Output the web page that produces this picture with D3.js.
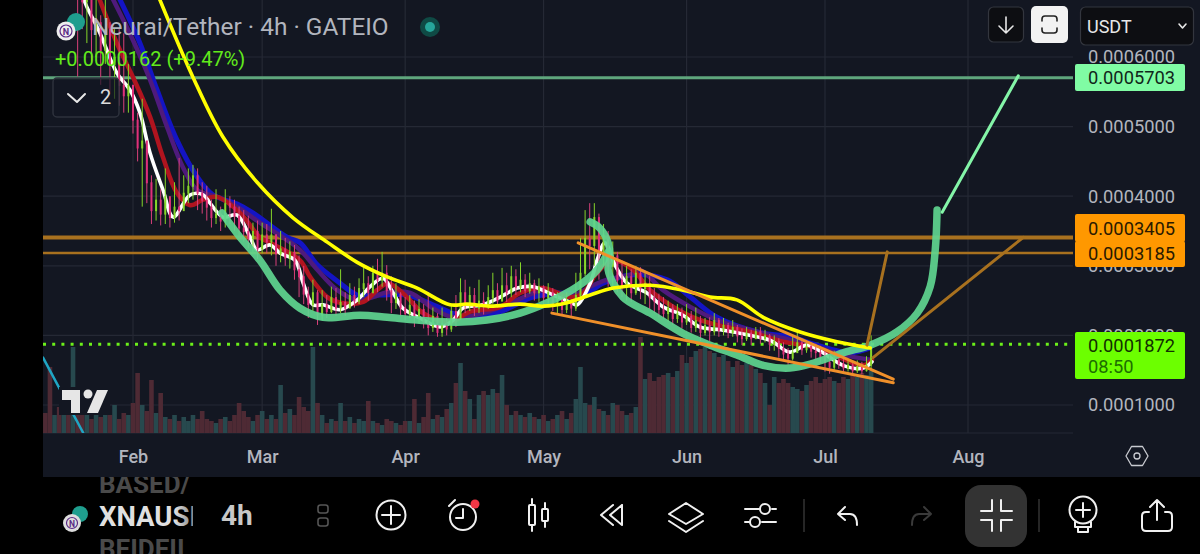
<!DOCTYPE html>
<html>
<head>
<meta charset="utf-8">
<script src="https://cdn.jsdelivr.net/npm/d3@7"></script>
<style>
  html, body { margin: 0; padding: 0; background: #000; overflow: hidden; }
  text { font-family: Roboto, sans-serif; }
</style>
</head>
<body>
<svg id="chart" width="1200" height="554"></svg>
<script>
// All prices are in millionths of USDT, all days are counted from 1 Jan 2025
var priceTicks = [100, 200, 300, 400, 500, 600];
var monthTicks = [1, 2, 3, 4, 5, 6, 7];

// Daily candles, first one is day 12
var firstCandleDay = 12;
var closes = [
  900,860,880,830,850,790,820,700,680,690,
  640,650,610,640,590,600,560,545,560,510,
  470,480,420,380,395,375,400,370,385,380,
  405,415,430,405,395,385,370,375,365,390,
  385,372,355,350,340,350,325,345,335,345,
  318,325,312,320,295,285,260,245,262,230,
  245,235,255,240,248,240,258,250,268,275,
  262,290,280,290,265,248,260,240,232,244,
  228,238,220,212,228,205,218,210,235,225,
  262,245,258,240,250,242,255,265,250,272,
  262,285,270,280,265,275,262,270,255,262,
  245,252,238,250,240,258,290,340,330,370,
  320,345,300,315,280,270,285,262,290,268,
  275,255,250,238,232,240,225,232,220,228,
  212,222,205,215,206,222,208,215,205,212,
  200,196,204,196,206,196,200,188,192,182,
  174,168,176,190,180,185,178,176,170,162,
  155,165,160,154,158,150,156,150,158,187.2
];
var highs = [
  940,920,910,890,880,860,850,790,790,760,
  700,700,660,690,650,640,640,634,590,560,
  520,540,470,430,425,410,440,395,420,455,
  430,440,445,440,420,415,395,410,385,410,
  400,395,385,380,372,362,365,362,360,382,
  345,350,340,335,330,315,300,270,280,265,
  265,258,270,268,295,262,275,270,282,297,
  285,300,310,320,301,285,275,262,255,258,
  250,252,245,262,240,232,240,225,245,258,
  282,280,270,268,280,262,272,290,275,297,
  290,300,295,305,288,290,280,282,272,275,
  268,262,258,262,252,290,340,380,390,390,
  375,360,350,335,320,305,300,295,300,298,
  292,285,268,260,255,250,245,245,240,245,
  235,240,228,225,226,232,225,225,218,222,
  215,210,212,208,212,212,208,202,200,196,
  190,182,200,205,196,192,190,188,185,180,
  172,178,172,168,165,162,164,162,170,200
];
var lows = [
  870,840,850,800,810,770,780,572,640,620,
  590,600,560,590,550,540,530,520,520,490,
  450,385,390,360,365,358,360,355,362,365,
  385,390,395,380,375,365,355,360,350,355,
  360,350,340,335,325,320,310,318,318,315,
  300,305,300,296,280,255,245,225,235,215,
  222,225,232,228,232,228,240,240,245,255,
  250,265,262,270,250,232,238,228,222,225,
  212,218,210,200,205,198,198,200,205,212,
  222,232,235,228,232,230,238,245,240,250,
  248,255,258,262,255,260,250,248,240,245,
  235,232,228,232,228,235,255,285,295,300,
  280,300,270,270,262,255,250,248,258,252,
  245,238,232,226,224,220,215,218,210,215,
  204,205,192,200,192,200,198,200,196,198,
  190,186,192,186,195,188,190,178,178,168,
  164,158,164,175,172,175,168,165,160,148,
  145,150,152,148,148,145,146,144,148,150
];
// Volume has no readable axis, these are relative heights
var volumes = [
  20,66,18,26,22,30,86,30,18,24,
  14,20,16,25,18,28,14,20,18,30,
  60,28,22,53,20,40,16,14,18,12,
  16,12,18,14,22,14,12,10,14,16,
  12,18,30,22,16,12,18,22,14,18,
  14,48,20,24,18,36,26,22,86,30,
  18,10,14,12,30,12,16,10,14,12,
  32,12,10,8,14,12,10,8,12,12,
  34,10,16,40,14,18,16,24,30,50,
  70,42,34,14,38,42,38,44,40,58,
  28,18,22,18,16,20,16,14,18,12,
  14,18,22,14,20,34,66,30,28,36,
  24,22,18,30,28,22,18,20,26,96,
  54,60,52,56,58,60,56,62,78,70,
  76,82,84,86,82,80,76,78,72,66,
  72,68,70,68,64,60,50,28,56,50,
  54,50,46,44,42,48,52,56,50,54,
  56,52,50,56,54,58,56,60,58,62
];

// Moving averages
var whiteDays = [20.4,21,23.8,27.5,30.3,32.5,34.7,37.5,39.7,43.4,46.2,47.7,50.5,53.5,56.4,57.9,60.7,62.9,66.1,67.9,70,72.2,75.9,79.6,82.4,85.2,87.4,89.5,93.2,97.6,100.4,102.5,106.9,110.6,114.3,117.7,122.1,125.7,127.3,130.1,131.6,133.3,135.5,138.1,142.4,145.9,150.2,153.9,158.3,164.1,169.1,173.4,177.1,180.6,184.9,189.3,191.2];
var whitePrices = [682,672,635,577,553,520,462,409,370,402,402,390,370,373,341,323,330,318,308,275,244,244,237,251,270,282,261,239,225,212,222,239,244,255,268,270,258,248,244,275,308,333,301,275,261,241,229,212,208,201,193,176,186,175,157,153,162];
var redDays = [23.4,27.5,31,34.7,37.5,40.5,43.4,46.2,49.2,54.2,58.5,60.7,67.2,69.4,73.1,75.9,80.9,83.9,86.3,90.4,93.9,99.7,104.1,110.6,114.9,119.9,125.7,128.6,131.6,135.1,139.4,143.1,148.1,152.4,157.6,164.8,171.9,179.3,184.3,189.3,191.2];
var redPrices = [689,620,571,514,456,405,387,395,399,376,341,333,308,284,255,247,248,265,275,255,232,219,234,241,261,268,255,261,290,308,294,265,241,226,215,205,191,182,168,157,165];
var purpleDays = [26.2,31,34.7,38.4,41.8,44.9,49.2,53.5,58.5,64.4,67.2,71,75.3,79.6,83,86.1,91.1,96,100.4,106.9,114.3,119.9,126.4,130.1,133.8,138.8,140.9,145.9,151.8,157.6,164.8,171.9,179.3,184.9,190.8];
var purplePrices = [689,624,567,499,442,409,399,385,362,337,323,294,265,251,255,262,261,239,226,232,251,265,258,270,280,287,294,265,241,222,208,196,183,172,165];
var blueDays = [27.7,32.5,36.2,40.5,44.9,48.3,53.5,57,64.4,67.2,71,75.9,79.6,84.5,90.4,96,100.2,103.4,110.6,117.7,125.1,128.6,132.9,139.4,146.8,151.8,157.6,166.3,173.4,179.3,186.4,190.8];
var bluePrices = [689,620,553,481,428,402,389,376,341,333,301,275,258,258,258,244,232,226,234,255,261,258,275,287,280,255,226,205,198,186,175,182];
var yellowDays = [36.4,44,50.5,57.9,65.7,73.1,79.6,86.1,92.6,99.7,103.4,108.4,114.9,119.9,125.1,130.1,135.1,143.1,150.2,156.1,161.9,167.6,175.6,183.6,190.8];
var yellowPrices = [689,571,485,420,369,334,305,284,268,244,245,242,245,242,247,258,268,272,265,255,251,226,205,191,182];

// Hand drawn brush strokes
var baseDays = [50.3,54.2,58.5,62.9,67.2,72.2,80.2,86.1,92.6,101.2,107.7,114.9,120.8,127.3,131.6,134];
var basePrices = [376,341,308,265,239,226,229,226,222,219,222,232,247,270,294,320];
var brushDays = [130.1,132.2,134,134.4,134,137.2,143.1,150.2,156.1,161.9,167.6,173.4,178.4,184.9,190.8,196.6,201,203.8,204.9,205.3];
var brushPrices = [363,354,333,311,294,255,232,203,186,172,157,153,160,175,186,205,232,270,323,380];

// Price levels: value, axis label colour, line colour, line width
var levelValues = [570.3, 340.5, 318.5];
var levelLines = ["#5fa67d", "#a8711f", "#a8711f"];
var levelWidths = [3, 4, 2.5];

// Straight drawings, each one is [day, price] to [day, price]
var wedgeLines = [
  [[121.8, 232], [195.8, 132]],
  [[127.5, 333], [195.8, 137]]
];
var targetLines = [
  [[190.1, 186], [194.5, 320]],
  [[191.4, 168], [224, 341]]
];
var riseLine = [[206.4, 377], [222.9, 573]];
var tealLine = [[11.5, 168], [20.2, 60]];

var svg = d3.select("#chart");

function dayToDate(d) {
  return new Date(Date.UTC(2025, 0, 1) + d * 864e5);
}

var x = d3.scaleUtc()
  .domain([new Date(Date.UTC(2025, 1, 1)), new Date(Date.UTC(2025, 7, 1))])
  .range([133, 968]);
var y = d3.scaleLinear().domain([100, 600]).range([405, 57]);
var vol = d3.scaleLinear().domain([0, 100]).range([433, 333]);

var X = d => x(dayToDate(d));

// Backgrounds
svg.append("rect").attr("width", 1200).attr("height", 554).attr("fill", "#000");
svg.append("rect").attr("x", 43).attr("width", 1157).attr("height", 477).attr("fill", "#131722");

svg.append("clipPath").attr("id", "plot")
  .append("rect").attr("x", 43).attr("y", 0).attr("width", 1030).attr("height", 433);

// Grid
var grid = svg.append("g").attr("stroke", "#252935").attr("stroke-width", 1.2);
priceTicks.forEach(p => {
  grid.append("line").attr("x1", 43).attr("x2", 1073).attr("y1", y(p)).attr("y2", y(p));
});
monthTicks.forEach(m => {
  var mx = x(new Date(Date.UTC(2025, m, 1)));
  grid.append("line").attr("x1", mx).attr("x2", mx).attr("y1", 0).attr("y2", 433);
});
grid.append("line").attr("x1", 43).attr("x2", 1073).attr("y1", 433).attr("y2", 433);

var plot = svg.append("g").attr("clip-path", "url(#plot)");

function isUp(i) {
  return i > 0 ? closes[i] >= closes[i - 1] : false;
}

// Volume
plot.append("g").selectAll("rect").data(volumes).join("rect")
  .attr("x", (d, i) => X(firstCandleDay + i) - 2.3)
  .attr("width", 4.6)
  .attr("y", d => vol(d))
  .attr("height", d => vol(0) - vol(d))
  .attr("fill", (d, i) => isUp(i) ? "#27494e" : "#4e2a34");

// Levels
levelValues.forEach((v, i) => {
  plot.append("line").attr("x1", 43).attr("x2", 1073)
    .attr("y1", y(v)).attr("y2", y(v))
    .attr("stroke", levelLines[i]).attr("stroke-width", levelWidths[i]);
});
plot.append("line").attr("x1", 43).attr("x2", 1073)
  .attr("y1", y(187.2)).attr("y2", y(187.2))
  .attr("stroke", "#6cf01a").attr("stroke-width", 3)
  .attr("stroke-dasharray", "3 6.2");

function drawCurve(days, prices, color, width, opacity) {
  var line = d3.line()
    .x((d, i) => X(days[i]))
    .y(d => y(d))
    .curve(d3.curveCatmullRom);
  plot.append("path").datum(prices)
    .attr("d", line)
    .attr("fill", "none")
    .attr("stroke", color)
    .attr("stroke-width", width)
    .attr("stroke-linecap", "round")
    .attr("stroke-linejoin", "round")
    .attr("opacity", opacity || 1);
}

function drawStraight(points, color, width, opacity) {
  plot.append("line")
    .attr("x1", X(points[0][0])).attr("y1", y(points[0][1]))
    .attr("x2", X(points[1][0])).attr("y2", y(points[1][1]))
    .attr("stroke", color).attr("stroke-width", width)
    .attr("stroke-linecap", "round")
    .attr("opacity", opacity || 1);
}

// Moving averages, candles go over them
drawCurve(blueDays, bluePrices, "#1414c4", 5);
drawCurve(purpleDays, purplePrices, "#4f1a7c", 4.5);
drawCurve(redDays, redPrices, "#b0141f", 4.5);
drawCurve(whiteDays, whitePrices, "#ffffff", 3.6);

// Candles
var candles = plot.append("g");
candles.selectAll("line").data(closes).join("line")
  .attr("x1", (d, i) => X(firstCandleDay + i))
  .attr("x2", (d, i) => X(firstCandleDay + i))
  .attr("y1", (d, i) => y(highs[i]))
  .attr("y2", (d, i) => y(lows[i]))
  .attr("stroke", (d, i) => isUp(i) ? "#86d62a" : "#d8407a")
  .attr("stroke-width", 1);
candles.selectAll("rect").data(closes).join("rect")
  .attr("x", (d, i) => X(firstCandleDay + i) - 1)
  .attr("width", 2)
  .attr("y", (d, i) => y(Math.max(d, i > 0 ? closes[i - 1] : d)))
  .attr("height", (d, i) => Math.abs(y(d) - y(i > 0 ? closes[i - 1] : d)) + 1)
  .attr("fill", (d, i) => isUp(i) ? "#86d62a" : "#e0307a");

drawCurve(baseDays, basePrices, "#5fd690", 7.5, 0.92);
drawCurve(brushDays, brushPrices, "#5fd690", 7.5, 0.92);
drawCurve(yellowDays, yellowPrices, "#ffff00", 3.6);

// Drawings
wedgeLines.forEach(l => drawStraight(l, "#f0902a", 3));
targetLines.forEach(l => drawStraight(l, "#a8711f", 3));
drawStraight(riseLine, "#84f5a8", 3);
drawStraight(tealLine, "#1fa6c4", 2.5);

// Price axis
var yAxis = d3.axisRight(y)
  .tickValues(priceTicks)
  .tickSize(0)
  .tickPadding(0)
  .tickFormat(d => (d / 1e6).toFixed(7));
var yG = svg.append("g").attr("transform", "translate(1088,0)").call(yAxis);
yG.select(".domain").remove();
yG.selectAll("text").attr("fill", "#b2b5be").attr("font-size", 18.3).attr("font-family", "Roboto");

// Time axis
var xAxis = d3.axisBottom(x)
  .tickValues(monthTicks.map(m => new Date(Date.UTC(2025, m, 1))))
  .tickSize(0)
  .tickPadding(0)
  .tickFormat(d3.utcFormat("%b"));
var xG = svg.append("g").attr("transform", "translate(0,450)").call(xAxis);
xG.select(".domain").remove();
xG.selectAll("text").attr("fill", "#b2b5be").attr("font-size", 18)
  .attr("font-weight", 500).attr("font-family", "Roboto");

// Price labels on the axis
function priceLabel(top, height, fill, textFill, label, textY) {
  svg.append("rect").attr("x", 1075).attr("y", top).attr("width", 110).attr("height", height)
    .attr("rx", 2).attr("fill", fill);
  svg.append("text").attr("x", 1088).attr("y", textY).attr("font-size", 18.3)
    .attr("fill", textFill).text(label);
}
priceLabel(64, 27, "#80fca4", "#10261a", "0.0005703", 84);
priceLabel(214, 28, "#ff9800", "#2a1a00", "0.0003405", 234.5);
priceLabel(241, 26, "#ff9800", "#2a1a00", "0.0003185", 260);
priceLabel(332, 47, "#6cff00", "#123000", "0.0001872", 352);
svg.append("text").attr("x", 1088).attr("y", 373).attr("font-size", 18.3)
  .attr("fill", "#1c6e00").text("08:50");

// Header
svg.append("text").attr("x", 92).attr("y", 35).attr("font-size", 24.4)
  .attr("fill", "#b2b5be").text("Neurai/Tether · 4h · GATEIO");
svg.append("text").attr("x", 55).attr("y", 66).attr("font-size", 20)
  .attr("fill", "#62ea1c").text("+0.0000162 (+9.47%)");
svg.append("circle").attr("cx", 76).attr("cy", 22).attr("r", 9).attr("fill", "#1f9e8e");
svg.append("circle").attr("cx", 66).attr("cy", 31).attr("r", 9.5).attr("fill", "#eee");
svg.append("circle").attr("cx", 66).attr("cy", 31).attr("r", 6).attr("fill", "none")
  .attr("stroke", "#5b2a86").attr("stroke-width", 1.2);
svg.append("text").attr("x", 66).attr("y", 34.5).attr("text-anchor", "middle")
  .attr("font-size", 9).attr("font-weight", 700).attr("fill", "#5b2a86").text("N");
svg.append("circle").attr("cx", 430).attr("cy", 27).attr("r", 10).attr("fill", "#0f4a45");
svg.append("circle").attr("cx", 430).attr("cy", 27).attr("r", 5).attr("fill", "#26a69a");

// Collapsed indicators box
svg.append("rect").attr("x", 53).attr("y", 78).attr("width", 66).attr("height", 39)
  .attr("rx", 4).attr("fill", "#131722").attr("fill-opacity", 0.7).attr("stroke", "#2e323d").attr("stroke-width", 1.5);
icon("M68 94 L77 102 L85 94", "#e8e8e8", 2);
svg.append("text").attr("x", 100).attr("y", 104).attr("font-size", 20)
  .attr("fill", "#dcdcdc").text("2");

function icon(path, color, width) {
  svg.append("path").attr("d", path).attr("fill", "none")
    .attr("stroke", color).attr("stroke-width", width || 2)
    .attr("stroke-linecap", "round").attr("stroke-linejoin", "round");
}

function ring(cx, cy, r, color, width) {
  svg.append("circle").attr("cx", cx).attr("cy", cy).attr("r", r).attr("fill", "none")
    .attr("stroke", color).attr("stroke-width", width || 2);
}

// Top right buttons
svg.append("rect").attr("x", 988.5).attr("y", 7).attr("width", 35).attr("height", 35)
  .attr("rx", 5).attr("fill", "#0d0e12").attr("stroke", "#33363e").attr("stroke-width", 1.2);
icon("M1006 17 V33 M999 26 L1006 33 L1013 26", "#e8e8e8", 1.6);
svg.append("rect").attr("x", 1031).attr("y", 6).attr("width", 37).attr("height", 37)
  .attr("rx", 5).attr("fill", "#f2f2f2");
icon("M1042 21 V19 Q1042 16 1045 16 H1054 Q1057 16 1057 19 V21 M1042 28 V30 Q1042 33 1045 33 H1054 Q1057 33 1057 30 V28", "#222", 1.6);
svg.append("rect").attr("x", 1080.5).attr("y", 7).attr("width", 113).attr("height", 38)
  .attr("rx", 5).attr("fill", "#0d0e12").attr("stroke", "#33363e").attr("stroke-width", 1.2);
svg.append("text").attr("x", 1087).attr("y", 32.5).attr("font-size", 18).attr("fill", "#e8e8e8").text("USDT");
icon("M1179 24 L1182.5 28 L1186 24", "#e8e8e8", 1.6);

// Settings hexagon next to the time axis
icon("M1126 456 L1131.5 446.5 H1142.5 L1148 456 L1142.5 465.5 H1131.5 Z", "#c8cad0", 1.3);
ring(1137, 456, 3, "#c8cad0", 1.3);

// TradingView mark
svg.append("rect").attr("x", 59).attr("y", 387).attr("width", 51).attr("height", 28).attr("fill", "#131722");
svg.append("path").attr("d", "M62 390 H80 V413 H71 V400 H62 Z").attr("fill", "#e6e6e6");
svg.append("circle").attr("cx", 88).attr("cy", 394).attr("r", 4.5).attr("fill", "#e6e6e6");
svg.append("path").attr("d", "M97 390 H108 L98 413 H87 Z").attr("fill", "#e6e6e6");

// Bottom toolbar
svg.append("rect").attr("y", 477).attr("width", 1200).attr("height", 77).attr("fill", "#000");

var fade = svg.append("linearGradient").attr("id", "fade");
fade.append("stop").attr("offset", "0.7").attr("stop-color", "#e0e0e0");
fade.append("stop").attr("offset", "1").attr("stop-color", "#444");

svg.append("clipPath").attr("id", "ticker")
  .append("rect").attr("x", 95).attr("y", 477).attr("width", 98).attr("height", 77);
var ticker = svg.append("g").attr("clip-path", "url(#ticker)");
ticker.append("text").attr("x", 99).attr("y", 493).attr("font-size", 26).attr("font-weight", 700)
  .attr("fill", "#4a4a4a").text("BASED/");
ticker.append("text").attr("x", 99).attr("y", 526).attr("font-size", 27.5).attr("font-weight", 700)
  .attr("fill", "url(#fade)").text("XNAUSD");
ticker.append("text").attr("x", 99).attr("y", 558).attr("font-size", 26).attr("font-weight", 700)
  .attr("fill", "#4a4a4a").text("BEIDEII");

svg.append("circle").attr("cx", 80).attr("cy", 514).attr("r", 8).attr("fill", "#1f9e8e");
svg.append("circle").attr("cx", 72).attr("cy", 523).attr("r", 9).attr("fill", "#ddd");
svg.append("circle").attr("cx", 72).attr("cy", 523).attr("r", 5.5).attr("fill", "none")
  .attr("stroke", "#5b2a86").attr("stroke-width", 1.2);
svg.append("text").attr("x", 72).attr("y", 526.5).attr("text-anchor", "middle")
  .attr("font-size", 8.5).attr("font-weight", 700).attr("fill", "#5b2a86").text("N");

svg.append("text").attr("x", 221).attr("y", 525).attr("font-size", 28).attr("font-weight", 700)
  .attr("fill", "#c8c8c8").text("4h");

// Two stacked boxes
svg.append("rect").attr("x", 318).attr("y", 505).attr("width", 10).attr("height", 8).attr("rx", 2.5)
  .attr("fill", "none").attr("stroke", "#555").attr("stroke-width", 1.6);
svg.append("rect").attr("x", 318).attr("y", 518).attr("width", 10).attr("height", 8).attr("rx", 2.5)
  .attr("fill", "none").attr("stroke", "#555").attr("stroke-width", 1.6);

// Add
ring(391, 515, 14.5, "#f0f0f0", 2);
icon("M382 515 H400 M391 506 V524", "#f0f0f0", 2);

// Alarm
ring(463, 517, 13, "#f0f0f0", 2);
icon("M463 509 V518 H456 M449 506 L455 500", "#f0f0f0", 2);
svg.append("circle").attr("cx", 475).attr("cy", 504).attr("r", 4.5).attr("fill", "#f23645");

// Candle type
svg.append("rect").attr("x", 529).attr("y", 505).attr("width", 6).attr("height", 20).attr("rx", 1)
  .attr("fill", "none").attr("stroke", "#f0f0f0").attr("stroke-width", 2);
svg.append("rect").attr("x", 542).attr("y", 509).attr("width", 6).attr("height", 12).attr("rx", 1)
  .attr("fill", "none").attr("stroke", "#f0f0f0").attr("stroke-width", 2);
icon("M532 499 V505 M532 525 V531 M545 503 V509 M545 521 V527", "#f0f0f0", 2);

// Replay
icon("M613 505 L601 515 L613 525 M622 505 L610 515 L622 525 V505", "#f0f0f0", 2);

// Layers
icon("M686 503 L703 514 L686 524 L669 514 Z M669 521 L686 532 L703 521", "#f0f0f0", 2);

// Sliders
icon("M745 509 H759 M772 509 H776 M745 522 H749 M762 522 H776", "#f0f0f0", 2);
ring(765, 509, 5, "#f0f0f0", 2);
ring(755, 522, 5, "#f0f0f0", 2);

// Separators
svg.append("line").attr("x1", 804).attr("x2", 804).attr("y1", 499).attr("y2", 532).attr("stroke", "#333").attr("stroke-width", 1.5);
svg.append("line").attr("x1", 1039).attr("x2", 1039).attr("y1", 499).attr("y2", 532).attr("stroke", "#333").attr("stroke-width", 1.5);

// Undo and redo
icon("M845 507 L838 514 L845 520 M838 514 H850 Q857 514 857 525", "#f0f0f0", 2);
icon("M924 507 L931 514 L924 520 M931 514 H919 Q912 514 912 525", "#3a3a3a", 2);

// Selected full screen button
svg.append("rect").attr("x", 965).attr("y", 485).attr("width", 62).attr("height", 62).attr("rx", 16).attr("fill", "#333");
icon("M992 500 V511 H981 M1001 500 V511 H1012 M992 531 V520 H981 M1001 531 V520 H1012", "#f0f0f0", 2);

// Idea
ring(1083, 510, 13.5, "#f0f0f0", 2);
icon("M1076 510 H1090 M1083 503 V517 M1075 522 V527 H1091 V522 M1078 527 V532 H1088 V527", "#f0f0f0", 2);

// Share
icon("M1157 500 V520 M1150 507 L1157 500 L1164 507 M1149 512 H1146 Q1142 512 1142 516 V527 Q1142 531 1146 531 H1168 Q1172 531 1172 527 V516 Q1172 512 1168 512 H1165", "#f0f0f0", 2);
</script>
</body>
</html>
